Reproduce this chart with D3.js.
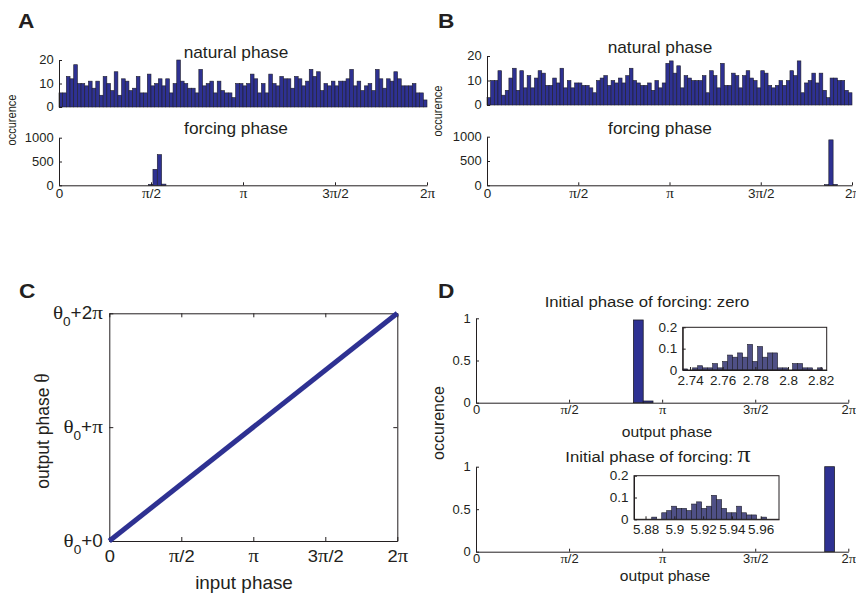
<!DOCTYPE html>
<html><head><meta charset="utf-8">
<script src="https://cdn.jsdelivr.net/npm/d3@7"></script>
<style>body{margin:0;background:#fff} svg{display:block}</style>
</head><body>
<script>
const PI = Math.PI;
// ---------- data ----------
const phaseTickValues = [0, PI/2, PI, 3*PI/2, 2*PI];
const phaseTickLabels = ["0", "π/2", "π", "3π/2", "2π"];

const naturalA = [6,6,13,12,18,10,10,9,11,8,11,5,13,10,7,15,5,12,11,7,8,13,6,6,14,9,10,12,9,12,6,10,20,11,10,8,8,6,16,9,10,11,6,11,7,6,6,4,10,10,9,10,14,12,6,10,6,14,10,9,13,12,12,8,13,12,9,11,16,13,15,7,10,9,11,9,11,11,12,16,9,11,7,9,10,7,16,12,8,12,11,15,12,9,9,9,10,6,6,3];
const naturalB = [3,10,10,14,4,6,11,15,6,14,7,12,7,11,14,13,8,8,11,9,15,7,10,7,9,9,8,8,7,5,10,11,12,8,10,9,11,9,12,15,10,9,8,8,9,6,10,7,9,17,18,13,16,7,12,11,10,10,10,12,5,14,12,7,17,8,8,13,12,7,12,14,11,10,7,14,13,8,7,8,10,8,10,14,12,18,5,9,10,13,9,13,6,3,11,11,10,10,6,5];
const naturalTicks = [0, 10, 20];

const forcingTicks = [0, 500, 1000];
const forcingBinWidth = 0.074;
const forcingAStart = [1.530, 1.604, 1.678, 1.752];
const forcingACount = [20, 336, 645, 25];
const forcingBStart = [5.810, 5.884, 5.958];
const forcingBCount = [15, 935, 20];

const cInput = [0, 2*PI];
const cOutput = [0, 2*PI];
const cYTickValues = [0, PI, 2*PI];
const cYTickLabels = ["θ0+0", "θ0+π", "θ0+2π"];

const dBinWidth = 0.165;
const dZeroStart = [2.657, 2.822];
const dZeroValue = [0.98, 0.02];
const dPiStart = [5.885];
const dPiValue = [1.0];
const dYTicks = [0, 0.5, 1];

const insetZeroStart = 2.7355, insetZeroWidth = 0.00306;
const insetZeroValues = [0.005,0,0.01,0.02,0.01,0.01,0.03,0.01,0.04,0.07,0.06,0.08,0.06,0.12,0.04,0.11,0.06,0.08,0.08,0.01,0.01,0,0.03,0.03,0.01,0.01,0,0.01];
const insetZeroTicks = [2.74, 2.76, 2.78, 2.80, 2.82];
const insetZeroDomain = [2.7355, 2.8237];
const insetPiStart = 5.8843, insetPiWidth = 0.00347;
const insetPiValues = [0.01,0,0.03,0.04,0.06,0.05,0.05,0.04,0.07,0.08,0.05,0.06,0.11,0.09,0.05,0.03,0.03,0.06,0.03,0.02,0.02,0,0.01];
const insetPiTicks = [5.88, 5.90, 5.92, 5.94, 5.96];
const insetPiDomain = [5.872, 5.9727];
const insetYTicks = [0, 0.1, 0.2];

// ---------- styling ----------
const SANS = "'Liberation Sans', Arial, Helvetica, sans-serif";
const SERIF = "'Liberation Serif', 'Times New Roman', serif";
const SX = 1.08;
const INK = "#231f20";
const BAR = "#2e3192";
const INSET = "#4f5086";

const svg = d3.select("body").append("svg").attr("width", 856).attr("height", 595);

function richText(sel, str, size, symScale = 1.12) {
  sel.text(null);
  let prevTheta = false, shifted = false;
  for (const ch of str) {
    const ts = sel.append("tspan").text(ch);
    if (ch === "π" || ch === "θ") ts.attr("font-family", SERIF).attr("font-size", size * symScale);
    if (prevTheta && ch === "0") { ts.attr("font-size", size * 0.72).attr("dy", size * 0.38); shifted = true; }
    else if (shifted) { ts.attr("dy", -size * 0.38); shifted = false; }
    prevTheta = ch === "θ";
  }
}

function label(x, y, str, size, opts = {}) {
  const t = svg.append("text")
    .attr("transform", `translate(${x},${y})` + (opts.rotate ? ` rotate(-90) scale(1,${SX})` : ` scale(${SX},1)`))
    .attr("text-anchor", opts.anchor || "middle")
    .attr("font-family", SANS).attr("font-size", size)
    .attr("font-weight", opts.bold ? "bold" : null)
    .attr("fill", INK);
  richText(t, str, size, opts.symScale);
  return t;
}

function styleAxis(g, size, labels) {
  g.attr("font-family", null).attr("font-size", null);
  g.select(".domain").attr("stroke", INK).attr("stroke-width", 1);
  g.selectAll(".tick line").attr("stroke", INK).attr("stroke-width", 1);
  g.selectAll(".tick text").attr("fill", INK).attr("font-family", SANS).attr("font-size", size)
    .attr("transform", `scale(${SX},1)`);
  if (labels) g.selectAll(".tick text").each(function(d, i) { richText(d3.select(this), labels[i], size); });
}

function bars(x, y, starts, width, values, fill, sw) {
  svg.append("g").selectAll("rect").data(values).join("rect")
    .attr("x", (d, i) => x(starts[i]))
    .attr("width", (d, i) => x(starts[i] + width) - x(starts[i]))
    .attr("y", d => y(d))
    .attr("height", d => y(0) - y(d))
    .attr("fill", fill).attr("stroke", "#1e1e2a").attr("stroke-width", sw);
}

// ---------- panels A / B ----------
function naturalPanel(xr, yr, values) {
  const x = d3.scaleLinear().domain([0, 2*PI]).range(xr);
  const y = d3.scaleLinear().domain([0, 20]).range(yr);
  const bw = 2*PI / values.length;
  const starts = values.map((d, i) => i * bw);
  bars(x, y, starts, bw, values, BAR, 0.6);
  const ax = svg.append("g").attr("transform", `translate(${xr[0]},0)`)
    .call(d3.axisLeft(y).tickValues(naturalTicks).tickSize(-3).tickSizeOuter(0).tickPadding(5));
  styleAxis(ax, 12);
}

function forcingPanel(xr, yr, starts, counts) {
  const x = d3.scaleLinear().domain([0, 2*PI]).range(xr);
  const y = d3.scaleLinear().domain([0, 1000]).range(yr);
  bars(x, y, starts, forcingBinWidth, counts, BAR, 0.6);
  const ay = svg.append("g").attr("transform", `translate(${xr[0]},0)`)
    .call(d3.axisLeft(y).tickValues(forcingTicks).tickSize(-3).tickSizeOuter(0).tickPadding(5).tickFormat(d3.format("d")));
  styleAxis(ay, 12);
  const ax = svg.append("g").attr("transform", `translate(0,${yr[0]})`)
    .call(d3.axisBottom(x).tickValues(phaseTickValues).tickSize(-3).tickSizeOuter(0).tickPadding(4));
  styleAxis(ax, 12.5, phaseTickLabels);
}

naturalPanel([59, 427], [107, 60], naturalA);
forcingPanel([59, 427], [185.3, 137.7], forcingAStart, forcingACount);
naturalPanel([487, 852], [105, 56], naturalB);
forcingPanel([487, 852], [185.3, 136.7], forcingBStart, forcingBCount);

label(18, 28, "A", 21, {anchor: "start", bold: true});
label(438, 28, "B", 21, {anchor: "start", bold: true});
label(236, 58, "natural phase", 16);
label(236, 134, "forcing phase", 16);
label(660, 53, "natural phase", 16);
label(660, 134, "forcing phase", 16);
label(16, 120, "occurence", 11, {rotate: true});
label(442, 111, "occurence", 11, {rotate: true});

// ---------- panel C ----------
(function() {
  const x = d3.scaleLinear().domain([0, 2*PI]).range([109.3, 397.3]);
  const y = d3.scaleLinear().domain([0, 2*PI]).range([541, 313.3]);
  const axB = svg.append("g").attr("transform", `translate(0,${y(0)})`)
    .call(d3.axisBottom(x).tickValues(phaseTickValues).tickSize(-4).tickSizeOuter(0).tickPadding(9));
  styleAxis(axB, 17, phaseTickLabels);
  const axT = svg.append("g").attr("transform", `translate(0,${y(2*PI)})`)
    .call(d3.axisTop(x).tickValues(phaseTickValues).tickSize(-4).tickSizeOuter(0).tickFormat(""));
  styleAxis(axT, 17);
  const axL = svg.append("g").attr("transform", `translate(${x(0)},0)`)
    .call(d3.axisLeft(y).tickValues(cYTickValues).tickSize(-4).tickSizeOuter(0).tickPadding(6));
  styleAxis(axL, 17.5, cYTickLabels);
  const axR = svg.append("g").attr("transform", `translate(${x(2*PI)},0)`)
    .call(d3.axisRight(y).tickValues(cYTickValues).tickSize(-4).tickSizeOuter(0).tickFormat(""));
  styleAxis(axR, 17);
  svg.append("path")
    .attr("d", d3.line()(cInput.map((v, i) => [x(v), y(cOutput[i])])))
    .attr("fill", "none").attr("stroke", BAR).attr("stroke-width", 5);
})();
label(19, 298, "C", 21, {anchor: "start", bold: true});
label(244, 589, "input phase", 17.5);
label(49, 431, "output phase θ", 17.5, {rotate: true});

// ---------- panel D ----------
function dPanel(yr, starts, values, inset) {
  const x = d3.scaleLinear().domain([0, 2*PI]).range([476, 848.3]);
  const y = d3.scaleLinear().domain([0, 1]).range(yr);
  bars(x, y, starts, dBinWidth, values, BAR, 0.8);
  const ay = svg.append("g").attr("transform", `translate(${x(0)},0)`)
    .call(d3.axisLeft(y).tickValues(dYTicks).tickSize(-3).tickSizeOuter(0).tickPadding(5).tickFormat(d3.format("~g")));
  styleAxis(ay, 12);
  const ax = svg.append("g").attr("transform", `translate(0,${yr[0]})`)
    .call(d3.axisBottom(x).tickValues(phaseTickValues).tickSize(-3).tickSizeOuter(0).tickPadding(3));
  styleAxis(ax, 12, phaseTickLabels);

  const ix = d3.scaleLinear().domain(inset.domain).range(inset.xr);
  const iy = d3.scaleLinear().domain([0, 0.2]).range(inset.yr);
  svg.append("rect").attr("x", inset.xr[0]).attr("y", inset.yr[1])
    .attr("width", inset.xr[1] - inset.xr[0]).attr("height", inset.yr[0] - inset.yr[1])
    .attr("fill", "#fff").attr("stroke", "none");
  const istarts = inset.values.map((d, i) => inset.start + i * inset.width);
  const g = svg.append("g");
  const clipId = "clip" + Math.round(inset.xr[0]);
  svg.append("clipPath").attr("id", clipId).append("rect")
    .attr("x", inset.xr[0]).attr("y", inset.yr[1]).attr("width", inset.xr[1] - inset.xr[0]).attr("height", inset.yr[0] - inset.yr[1]);
  g.attr("clip-path", `url(#${clipId})`).selectAll("rect").data(inset.values).join("rect")
    .attr("x", (d, i) => ix(istarts[i]))
    .attr("width", (d, i) => ix(istarts[i] + inset.width) - ix(istarts[i]))
    .attr("y", d => iy(d)).attr("height", d => iy(0) - iy(d))
    .attr("fill", INSET).attr("stroke", "#1e1e2a").attr("stroke-width", 0.6);
  const iax = svg.append("g").attr("transform", `translate(0,${inset.yr[0]})`)
    .call(d3.axisBottom(ix).tickValues(inset.ticks).tickSize(-3).tickSizeOuter(0).tickPadding(6)
      .tickFormat(d => String(+d.toFixed(2))));
  styleAxis(iax, 12.5);
  const iay = svg.append("g").attr("transform", `translate(${inset.xr[0]},0)`)
    .call(d3.axisLeft(iy).tickValues(insetYTicks).tickSize(-3).tickSizeOuter(0).tickPadding(5).tickFormat(d3.format("~g")));
  styleAxis(iay, 12.5);
  svg.append("rect").attr("x", inset.xr[0]).attr("y", inset.yr[1])
    .attr("width", inset.xr[1] - inset.xr[0]).attr("height", inset.yr[0] - inset.yr[1])
    .attr("fill", "none").attr("stroke", INK).attr("stroke-width", 1);
}

dPanel([402.7, 318.3], dZeroStart, dZeroValue,
  {domain: insetZeroDomain, xr: [682.7, 826.7], yr: [370, 327.3], start: insetZeroStart, width: insetZeroWidth, values: insetZeroValues, ticks: insetZeroTicks});
dPanel([551.7, 466.7], dPiStart, dPiValue,
  {domain: insetPiDomain, xr: [634, 779], yr: [519.3, 475.7], start: insetPiStart, width: insetPiWidth, values: insetPiValues, ticks: insetPiTicks});

label(438, 298, "D", 21, {anchor: "start", bold: true});
label(647, 307, "Initial phase of forcing: zero", 15.5);
label(658, 462, "Initial phase of forcing: π", 15.5, {symScale: 1.55});
label(667, 437, "output phase", 14.5);
label(665, 581, "output phase", 14.5);
label(444, 423, "occurence", 16, {rotate: true});
</script>
</body></html>
